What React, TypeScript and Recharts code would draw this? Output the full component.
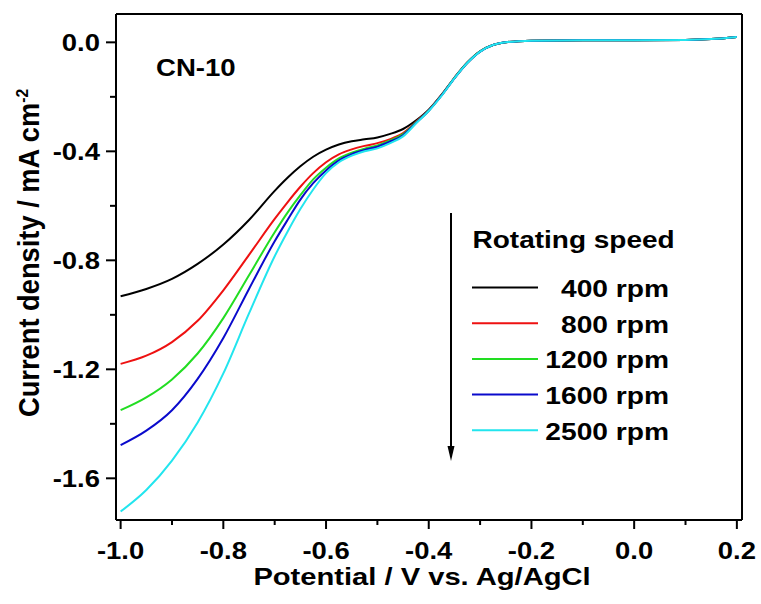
import React from "react";
import { LineChart, Line, XAxis, YAxis } from "recharts";

// potential (V vs. Ag/AgCl)
const potentials = [
  -1.0, -0.95, -0.9, -0.85, -0.8, -0.75, -0.7, -0.675, -0.65, -0.625, -0.6, -0.575, -0.55,
  -0.525, -0.5, -0.475, -0.45, -0.425, -0.4, -0.375, -0.35, -0.325, -0.3, -0.275, -0.25,
  -0.2, -0.1, 0.0, 0.1, 0.15, 0.2,
];

// current density (mA cm-2) per rotating speed
const rpm400 = [
  -0.932, -0.905, -0.868, -0.813, -0.742, -0.652, -0.545, -0.497, -0.455, -0.42, -0.394, -0.375, -0.363,
  -0.356, -0.349, -0.336, -0.318, -0.287, -0.247, -0.192, -0.13, -0.074, -0.033, -0.01, 0.0,
  0.006, 0.008, 0.008, 0.009, 0.012, 0.02,
];
const rpm800 = [
  -1.18, -1.15, -1.1, -1.022, -0.91, -0.78, -0.648, -0.587, -0.53, -0.48, -0.44, -0.411, -0.393,
  -0.38, -0.37, -0.355, -0.333, -0.292, -0.249, -0.193, -0.131, -0.075, -0.033, -0.01, 0.0,
  0.006, 0.008, 0.008, 0.009, 0.012, 0.02,
];
const rpm1200 = [
  -1.35, -1.303, -1.237, -1.142, -1.012, -0.855, -0.697, -0.625, -0.561, -0.503, -0.46, -0.426, -0.405,
  -0.39, -0.378, -0.36, -0.337, -0.294, -0.25, -0.194, -0.131, -0.075, -0.033, -0.01, 0.0,
  0.006, 0.008, 0.008, 0.009, 0.012, 0.02,
];
const rpm1600 = [
  -1.478, -1.425, -1.35, -1.235, -1.085, -0.905, -0.73, -0.652, -0.577, -0.517, -0.47, -0.433, -0.41,
  -0.395, -0.383, -0.364, -0.341, -0.296, -0.251, -0.195, -0.132, -0.076, -0.034, -0.01, 0.0,
  0.006, 0.008, 0.008, 0.009, 0.012, 0.02,
];
const rpm2500 = [
  -1.722, -1.643, -1.535, -1.395, -1.215, -0.995, -0.785, -0.695, -0.612, -0.54, -0.48, -0.44, -0.416,
  -0.4, -0.389, -0.37, -0.345, -0.298, -0.252, -0.196, -0.132, -0.076, -0.034, -0.01, 0.0,
  0.006, 0.008, 0.008, 0.009, 0.012, 0.02,
];

const speedLabels = ["400 rpm", "800 rpm", "1200 rpm", "1600 rpm", "2500 rpm"];
const speedColors = ["#000000", "#ee1111", "#22dd22", "#0a0acc", "#22e5ee"];
const speedValues = [rpm400, rpm800, rpm1200, rpm1600, rpm2500];

const xTicks = [-1.0, -0.9, -0.8, -0.7, -0.6, -0.5, -0.4, -0.3, -0.2, -0.1, 0.0, 0.1, 0.2];
const yTicks = [0.0, -0.2, -0.4, -0.6, -0.8, -1.0, -1.2, -1.4, -1.6];

const xDomain = [-1.009, 0.21];
const yDomain = [-1.753, 0.104];

const data = potentials.map((p, i) => {
  const row: Record<string, number> = { p };
  speedValues.forEach((vals, k) => {
    row["s" + k] = vals[i];
  });
  return row;
});

const FONT = '"Liberation Sans", Arial, sans-serif';

function XTick(props: any) {
  const { x, y, payload } = props;
  const major = Math.round(payload.value * 10) % 2 === 0;
  return (
    <g>
      <line x1={x} y1={y} x2={x} y2={y + (major ? 9 : 5)} stroke="#000" strokeWidth={2} />
      {major && (
        <text
          transform={`translate(${x},${y + 39}) scale(1.12,1)`}
          textAnchor="middle"
          fontFamily={FONT}
          fontWeight="bold"
          fontSize={24.5}
          fill="#000"
        >
          {Math.abs(payload.value) < 1e-9 ? "0.0" : payload.value.toFixed(1)}
        </text>
      )}
    </g>
  );
}

function YTick(props: any) {
  const { x, y, payload } = props;
  const major = Math.round(payload.value * 10) % 4 === 0;
  return (
    <g>
      <line x1={x - (major ? 10 : 6)} y1={y} x2={x} y2={y} stroke="#000" strokeWidth={2} />
      {major && (
        <text
          transform={`translate(${x - 16},${y + 9}) scale(1.12,1)`}
          textAnchor="end"
          fontFamily={FONT}
          fontWeight="bold"
          fontSize={24.5}
          fill="#000"
        >
          {Math.abs(payload.value) < 1e-9 ? "0.0" : payload.value.toFixed(1)}
        </text>
      )}
    </g>
  );
}

const frame = { stroke: "#000", strokeWidth: 2 };

export default function App() {
  return (
    <div style={{ position: "absolute", left: 0, top: 0, width: 761, height: 604, background: "#fff" }}>
      <LineChart
        width={761}
        height={604}
        data={data}
        margin={{ top: 13, right: 18, bottom: 24, left: 16 }}
      >
        <XAxis
          dataKey="p"
          type="number"
          domain={xDomain}
          allowDataOverflow
          ticks={xTicks}
          interval={0}
          height={60}
          tickSize={0}
          tickMargin={0}
          tickLine={false}
          axisLine={frame}
          tick={XTick}
        />
        <XAxis
          xAxisId="top"
          orientation="top"
          type="number"
          domain={xDomain}
          allowDataOverflow
          height={1}
          tick={false}
          tickLine={false}
          axisLine={frame}
        />
        <YAxis
          type="number"
          domain={yDomain}
          allowDataOverflow
          ticks={yTicks}
          interval={0}
          width={100}
          tickSize={0}
          tickMargin={0}
          tickLine={false}
          axisLine={frame}
          tick={YTick}
        />
        <YAxis
          yAxisId="right"
          orientation="right"
          type="number"
          domain={yDomain}
          allowDataOverflow
          width={1}
          tick={false}
          tickLine={false}
          axisLine={frame}
        />
        {speedLabels.map((name, k) => (
          <Line
            key={name}
            name={name}
            dataKey={"s" + k}
            type="monotone"
            stroke={speedColors[k]}
            strokeWidth={2}
            dot={false}
            activeDot={false}
            isAnimationActive={false}
          />
        ))}
      </LineChart>

      <svg
        width={761}
        height={604}
        style={{ position: "absolute", left: 0, top: 0, pointerEvents: "none" }}
        fontFamily={FONT}
        fontWeight="bold"
      >
        <text transform="translate(156,76) scale(1.2,1)" fontSize={23} fill="#000">
          CN-10
        </text>

        <text
          transform="translate(422,585) scale(1.19,1)"
          textAnchor="middle"
          fontSize={24.5}
          fill="#000"
        >
          Potential / V vs. Ag/AgCl
        </text>

        <text transform="translate(39,417) rotate(-90) scale(1.05,1.1)" fontSize={26} fill="#000">
          Current density / mA cm
          <tspan dy={-10} fontSize={15}>
            -2
          </tspan>
        </text>

        <line x1={451} y1={213} x2={451} y2={450} stroke="#000" strokeWidth={2} />
        <polygon points="447.5,446 454.5,446 451,461" fill="#000" />

        <text transform="translate(472.5,248) scale(1.143,1)" fontSize={24.5} fill="#000">
          Rotating speed
        </text>
        {speedLabels.map((name, k) => {
          const ly = 287.5 + k * 35.7;
          return (
            <g key={name}>
              <line x1={472} y1={ly} x2={538} y2={ly} stroke={speedColors[k]} strokeWidth={2} />
              <text
                transform={`translate(669,${ly + 9.5}) scale(1.15,1)`}
                textAnchor="end"
                fontSize={24.5}
                fill="#000"
              >
                {name}
              </text>
            </g>
          );
        })}
      </svg>
    </div>
  );
}
